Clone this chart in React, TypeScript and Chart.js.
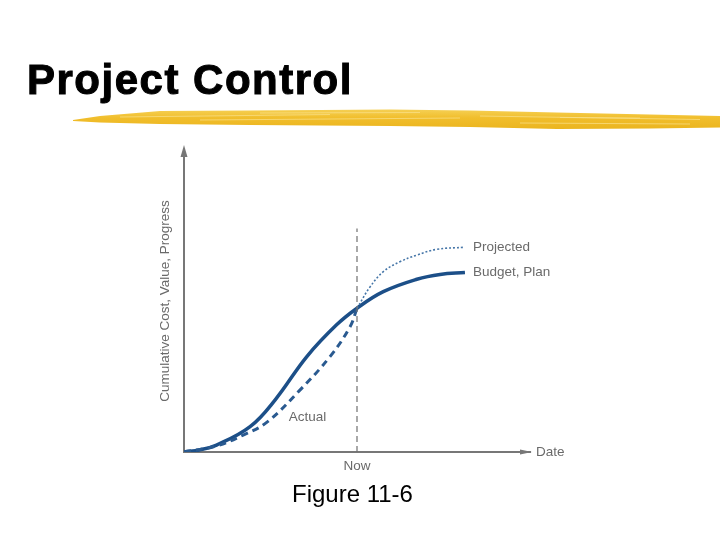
import React, { useEffect, useRef } from "react";
import { Chart, registerables } from "chart.js";

Chart.register(...registerables);

// ---- data (x: time 0..100, y: cumulative 0..100) ----
const budgetX = [0, 4.6, 9.4, 19.1, 26.3, 35.5, 44.1, 50, 57.6, 67.3, 74, 81.2];
const budgetY = [0, 0.7, 2.3, 8.4, 17.2, 31.6, 42.1, 47.6, 53.1, 57.2, 58.8, 59.4];
const actualX = [0, 9.4, 17.1, 23.9, 33.5, 42.2, 48.0, 50];
const actualY = [0, 2.0, 5.6, 9.8, 20.5, 31.6, 41.5, 47.6];
const projectedX = [50, 53.8, 57.6, 62.4, 67.3, 73.0, 81.2];
const projectedY = [47.6, 54.7, 59.7, 63.0, 65.2, 67.1, 67.8];
const nowX = 50;
const nowLineY = [0, 74];
const nowLabel = "Now";
const xAxisLabel = "Date";
const yAxisLabel = "Cumulative Cost, Value, Progress";
const seriesLabels = ["Projected", "Budget, Plan", "Actual"];
const labelAnchorX = [81.2, 81.2, 30.3];
const labelAnchorY = [67.8, 59.4, 11.6];
const titleText = "Project Control";
const captionText = "Figure 11-6";

const zip = (xs: number[], ys: number[]) => xs.map((x, i) => ({ x, y: ys[i] }));

const LABEL_FONT = "13.5px 'Liberation Sans', Arial, sans-serif";
const TEXT_GREY = "#6a6a6a";
const AXIS_GREY = "#777777";

const decorPlugin = {
  id: "decor",
  beforeDraw(chart: any) {
    const ctx = chart.ctx;
    ctx.save();
    // yellow brush stroke under the title
    const top = [
      [73, 120], [100, 116], [160, 111], [250, 110.5], [390, 109.5], [470, 110.5],
      [557, 112.5], [650, 114.5], [720, 116],
    ];
    const bot = [
      [720, 127.5], [650, 128.5], [557, 129], [470, 127], [390, 126], [250, 125],
      [160, 124], [100, 122.5], [73, 121],
    ];
    const g = ctx.createLinearGradient(0, 108, 0, 130);
    g.addColorStop(0, "#f6d35c");
    g.addColorStop(0.45, "#f1be2c");
    g.addColorStop(1, "#eab41e");
    ctx.beginPath();
    top.concat(bot).forEach((p, i) => (i ? ctx.lineTo(p[0], p[1]) : ctx.moveTo(p[0], p[1])));
    ctx.closePath();
    ctx.fillStyle = g;
    ctx.fill();
    // lighter streaks
    ctx.strokeStyle = "rgba(250,225,140,0.7)";
    ctx.lineWidth = 1;
    const streaks = [
      [120, 117, 330, 114.5], [200, 120, 460, 118], [260, 113, 420, 112.5],
      [480, 116, 700, 119.5], [520, 123, 690, 124], [560, 117.5, 640, 118],
    ];
    streaks.forEach((s) => {
      ctx.beginPath();
      ctx.moveTo(s[0], s[1]);
      ctx.lineTo(s[2], s[3]);
      ctx.stroke();
    });
    ctx.restore();
  },
  afterDraw(chart: any) {
    const ctx = chart.ctx;
    const xs = chart.scales.x;
    const ys = chart.scales.y;
    const area = chart.chartArea;
    ctx.save();
    // arrowheads
    ctx.fillStyle = AXIS_GREY;
    ctx.beginPath();
    ctx.moveTo(area.left, area.top - 5);
    ctx.lineTo(area.left - 3.5, area.top + 7);
    ctx.lineTo(area.left + 3.5, area.top + 7);
    ctx.closePath();
    ctx.fill();
    ctx.beginPath();
    ctx.moveTo(area.right + 2, area.bottom);
    ctx.lineTo(area.right - 10, area.bottom - 2.5);
    ctx.lineTo(area.right - 10, area.bottom + 2.5);
    ctx.closePath();
    ctx.fill();
    // text labels
    ctx.font = LABEL_FONT;
    ctx.fillStyle = TEXT_GREY;
    ctx.textBaseline = "middle";
    ctx.textAlign = "left";
    seriesLabels.forEach((t, i) => {
      const px = xs.getPixelForValue(labelAnchorX[i]) + (i < 2 ? 8 : 0);
      const py = ys.getPixelForValue(labelAnchorY[i]);
      ctx.fillText(t, px, py);
    });
    ctx.fillText(xAxisLabel, area.right + 6, area.bottom);
    ctx.restore();
  },
};

export default function App() {
  const ref = useRef<HTMLCanvasElement | null>(null);
  useEffect(() => {
    if (!ref.current) return;
    const chart = new Chart(ref.current, {
      type: "line",
      data: {
        datasets: [
          {
            label: "Now",
            data: zip([nowX, nowX], nowLineY),
            borderColor: "#707070",
            borderWidth: 1.2,
            borderDash: [6, 4],
            pointRadius: 0,
            tension: 0,
          },
          {
            label: "Projected",
            data: zip(projectedX, projectedY),
            borderColor: "#4676a8",
            borderWidth: 1.6,
            borderDash: [2, 2],
            pointRadius: 0,
            tension: 0.4,
          },
          {
            label: "Actual",
            data: zip(actualX, actualY),
            borderColor: "#2a5a90",
            borderWidth: 3,
            borderDash: [7, 5],
            pointRadius: 0,
            tension: 0.4,
          },
          {
            label: "Budget, Plan",
            data: zip(budgetX, budgetY),
            borderColor: "#1c4f88",
            borderWidth: 3.5,
            pointRadius: 0,
            tension: 0.4,
          },
        ],
      },
      options: {
        responsive: false,
        animation: false,
        devicePixelRatio: 1,
        layout: { padding: { left: 153, right: 190, top: 150, bottom: 58 } },
        plugins: { legend: { display: false }, tooltip: { enabled: false } },
        scales: {
          x: {
            type: "linear",
            min: 0,
            max: 100,
            grid: { display: false, drawTicks: false },
            border: { display: true, color: AXIS_GREY, width: 2 },
            afterBuildTicks: (s: any) => {
              s.ticks = [{ value: nowX }];
            },
            afterFit: (s: any) => {
              s.height = 30;
            },
            ticks: {
              autoSkip: false,
              maxRotation: 0,
              padding: 6,
              color: TEXT_GREY,
              font: { family: "'Liberation Sans', Arial, sans-serif", size: 13.5 },
              callback: () => nowLabel,
            },
          },
          y: {
            type: "linear",
            min: 0,
            max: 100,
            grid: { display: false, drawTicks: false },
            border: { display: true, color: AXIS_GREY, width: 2 },
            ticks: { display: false },
            afterFit: (s: any) => {
              s.width = 31;
            },
            title: {
              display: true,
              text: yAxisLabel,
              color: TEXT_GREY,
              padding: { top: 4, bottom: 4 },
              font: { family: "'Liberation Sans', Arial, sans-serif", size: 13.5 },
            },
          },
        },
      },
      plugins: [decorPlugin],
    } as any);
    return () => chart.destroy();
  }, []);

  return (
    <div style={{ position: "absolute", left: 0, top: 0, width: 720, height: 540, background: "#fff", overflow: "hidden" }}>
      <canvas ref={ref} width={720} height={540} style={{ display: "block", position: "absolute", left: 0, top: 0 }} />
      <div
        style={{
          position: "absolute",
          left: 27,
          top: 58.5,
          fontFamily: "'Liberation Sans', Arial, sans-serif",
          fontWeight: 700,
          fontSize: 42,
          lineHeight: 1,
          letterSpacing: 1.5,
          color: "#000",
          whiteSpace: "nowrap",
          WebkitTextStroke: "1px #000",
        }}
      >
        {titleText}
      </div>
      <div
        style={{
          position: "absolute",
          left: 292,
          top: 481.7,
          fontFamily: "'Liberation Sans', Arial, sans-serif",
          fontSize: 24,
          lineHeight: 1,
          color: "#000",
          whiteSpace: "nowrap",
        }}
      >
        {captionText}
      </div>
    </div>
  );
}
